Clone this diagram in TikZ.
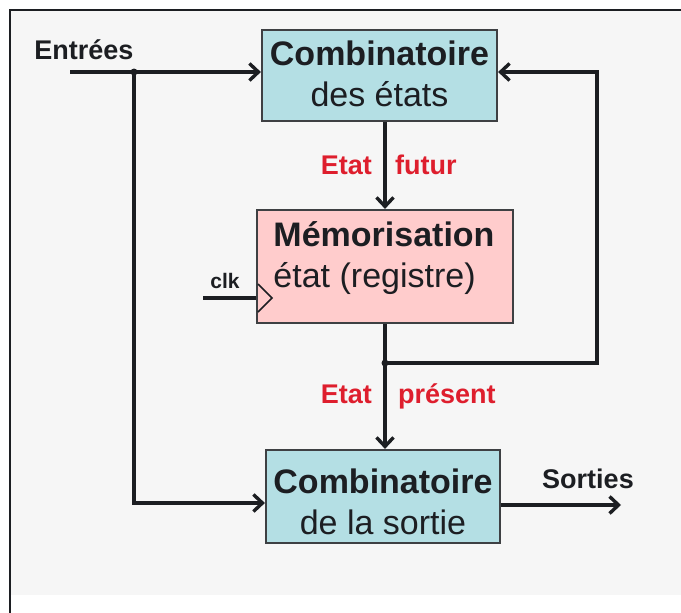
\documentclass[tikz,border=0pt]{standalone}
\usepackage{fontspec}
\setmainfont{Liberation Sans}
\usetikzlibrary{arrows.meta}
\definecolor{framebg}{RGB}{246,246,246}
\definecolor{boxblue}{RGB}{180,223,228}
\definecolor{boxpink}{RGB}{255,204,204}
\definecolor{lblred}{RGB}{222,30,45}
\definecolor{ink}{RGB}{28,30,34}
\tikzset{
  block/.style={draw=ink!85, line width=2.2pt, inner sep=0pt},
  wire/.style={draw=ink, line width=3.4pt},
  flow/.style={wire, -{Straight Barb[length=9pt,width=17pt]}},
  bigtxt/.style={text=ink, align=center, font=\fontsize{34}{41}\selectfont, inner sep=0pt},
  sidetxt/.style={text=ink, font=\bfseries\fontsize{27}{30}\selectfont, inner sep=0pt},
  redtxt/.style={text=lblred, font=\bfseries\fontsize{27}{30}\selectfont, inner sep=0pt},
  dot/.style={circle, fill=ink, inner sep=0pt, minimum size=7pt}
}
\begin{document}
\begin{tikzpicture}[x=1pt,y=-1pt]
  % canvas and frame
  \useasboundingbox (0,0) rectangle (681,613);
  \fill[white] (0,0) rectangle (681,613);
  \fill[framebg] (10,10) rectangle (681,595);
  \draw[ink, line width=1.6pt] (10,613) -- (10,10) -- (681,10);

  % blocks
  \node[block, fill=boxblue, minimum width=235pt, minimum height=91pt] (comb1) at (379.5,75.5) {};
  \node[bigtxt] (comb1txt) at (379.5,74) {\textbf{Combinatoire}\\des états};

  \node[block, fill=boxpink, minimum width=256pt, minimum height=113pt] (mem) at (385,266.5) {};
  \node[bigtxt, align=left] (memtxt) at (384,258) {\textbf{Mémorisation}\\état (registre)};

  \node[block, fill=boxblue, minimum width=234pt, minimum height=93pt] (comb2) at (383,496.5) {};
  \node[bigtxt] (comb2txt) at (383,502) {\textbf{Combinatoire}\\de la sortie};

  % clock input
  \node[text=ink, font=\bfseries\fontsize{21}{24}\selectfont, inner sep=0pt] (clk) at (225,281) {clk};
  \coordinate (clkin) at (203,298);
  \draw[wire] (clkin) -- (mem.west |- clkin);
  \draw[ink, line width=1.6pt, fill=boxpink, line join=miter]
    (258,284) -- (272,298) -- (258,312);

  % inputs
  \node[sidetxt] (entrees) at (84,50) {Entrées};
  \coordinate (in) at (70,72);
  \coordinate (jin) at (134,72);
  \coordinate (lowL) at (134,503);
  \draw[flow] (in) -- (comb1.west |- in);
  \draw[flow] (jin) -- (lowL) -- (comb2.west |- lowL);
  \node[dot] (jindot) at (jin) {};

  % next state
  \draw[flow] (mem.north |- comb1.south) -- (mem.north);
  \node[redtxt, anchor=base east] (etat1) at (372,174) {Etat};
  \node[redtxt, anchor=base west] (futur) at (395,174) {futur};

  % present state and feedback
  \coordinate (jst) at (385,363);
  \coordinate (fbR) at (597,363);
  \coordinate (fbT) at (597,72);
  \draw[wire] (mem.south) -- (jst);
  \draw[flow] (jst) -- (comb2.north -| jst);
  \draw[flow] (jst) -- (fbR) -- (fbT) -- (comb1.east |- fbT);
  \node[dot] (jstdot) at (jst) {};
  \node[redtxt, anchor=base east] (etat2) at (372,403) {Etat};
  \node[redtxt, anchor=base west] (present) at (398,403) {présent};

  % outputs
  \coordinate (out) at (621,505);
  \draw[flow] (comb2.east |- out) -- (out);
  \node[sidetxt] (sorties) at (588,479) {Sorties};
\end{tikzpicture}
\end{document}
